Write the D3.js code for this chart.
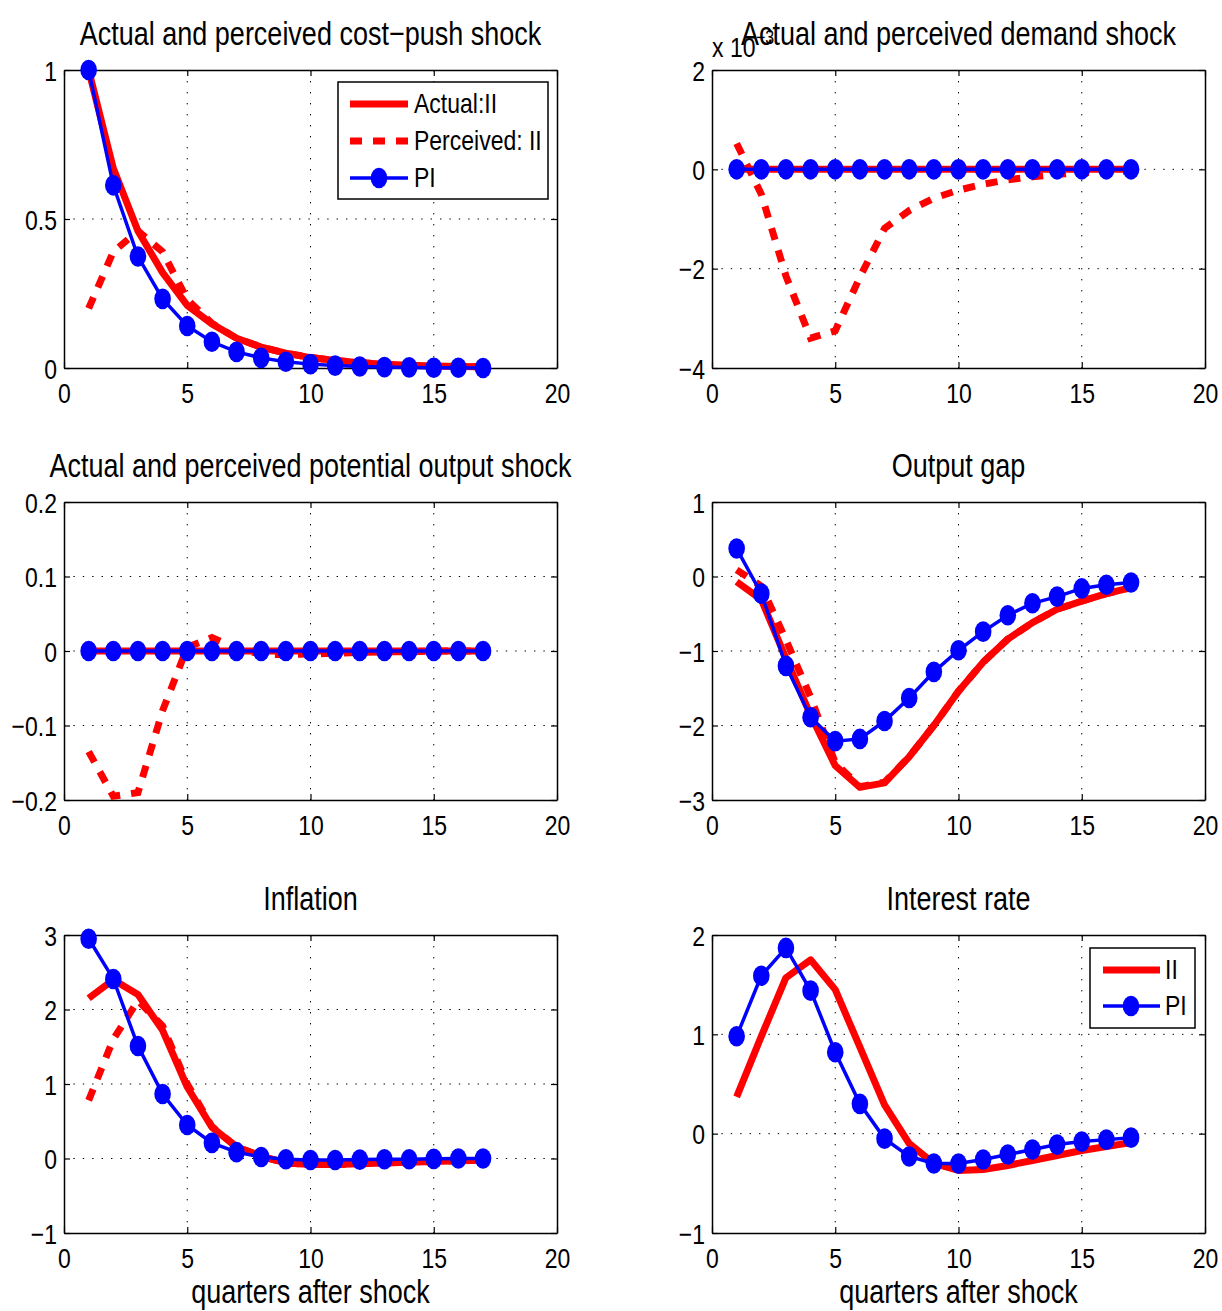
<!DOCTYPE html>
<html>
<head>
<meta charset="utf-8">
<script src="https://cdn.jsdelivr.net/npm/d3@7"></script>
<style>
  body { margin: 0; background: #fff; }
  text { font-family: "Liberation Sans", Arial, sans-serif; fill: #000; }
</style>
</head>
<body>
<div class="chart"></div>
<script>
// quarters after the shock (x values of every series)
var quarters = [1, 2, 3, 4, 5, 6, 7, 8, 9, 10, 11, 12, 13, 14, 15, 16, 17];
var xTicks = [0, 5, 10, 15, 20];

// cost-push shock
var costActual    = [1.00, 0.67, 0.46, 0.32, 0.21, 0.148, 0.10, 0.07, 0.05, 0.035, 0.025, 0.018, 0.013, 0.009, 0.007, 0.005, 0.004];
var costPerceived = [0.20, 0.39, 0.46, 0.39, 0.23, 0.15, 0.10, 0.07, 0.05, 0.035, 0.025, 0.018, 0.013, 0.009, 0.007, 0.005, 0.004];
var costPI        = [1.00, 0.613, 0.374, 0.232, 0.141, 0.088, 0.054, 0.034, 0.021, 0.013, 0.008, 0.005, 0.003, 0.002, 0.001, 0.001, 0.000];

// demand shock (units of 10^-3)
var demandActual    = [0, 0, 0, 0, 0, 0, 0, 0, 0, 0, 0, 0, 0, 0, 0, 0, 0];
var demandPerceived = [0.52, -0.50, -2.15, -3.40, -3.25, -2.17, -1.19, -0.83, -0.58, -0.42, -0.30, -0.21, -0.15, -0.10, -0.07, -0.05, -0.03];
var demandPI        = [0, 0, 0, 0, 0, 0, 0, 0, 0, 0, 0, 0, 0, 0, 0, 0, 0];

// potential output shock
var potActual    = [0, 0, 0, 0, 0, 0, 0, 0, 0, 0, 0, 0, 0, 0, 0, 0, 0];
var potPerceived = [-0.135, -0.195, -0.19, -0.08, 0.005, 0.018, 0.003, -0.004, -0.005, -0.004, -0.003, -0.002, -0.001, -0.001, 0, 0, 0];
var potPI        = [0, 0, 0, 0, 0, 0, 0, 0, 0, 0, 0, 0, 0, 0, 0, 0, 0];

// output gap
var gapActual    = [-0.07, -0.31, -1.10, -1.86, -2.54, -2.83, -2.77, -2.42, -2.00, -1.54, -1.15, -0.84, -0.62, -0.44, -0.33, -0.23, -0.15];
var gapPerceived = [0.09, -0.13, -0.85, -1.62, -2.50, -2.82, -2.76, -2.42, -2.00, -1.54, -1.15, -0.84, -0.62, -0.44, -0.33, -0.23, -0.15];
var gapPI        = [0.375, -0.23, -1.20, -1.89, -2.21, -2.18, -1.94, -1.63, -1.28, -0.99, -0.74, -0.52, -0.36, -0.27, -0.16, -0.11, -0.08];

// inflation
var inflActual    = [2.15, 2.40, 2.20, 1.72, 0.96, 0.42, 0.155, 0.03, -0.06, -0.08, -0.08, -0.07, -0.06, -0.05, -0.04, -0.03, -0.025];
var inflPerceived = [0.78, 1.60, 2.12, 1.78, 1.00, 0.43, 0.155, 0.03, -0.06, -0.08, -0.08, -0.07, -0.06, -0.05, -0.04, -0.03, -0.025];
var inflPI        = [2.95, 2.41, 1.51, 0.865, 0.45, 0.21, 0.085, 0.02, -0.01, -0.02, -0.02, -0.015, -0.01, -0.01, -0.005, 0, 0];

// interest rate
var rateActual = [0.37, 0.98, 1.57, 1.75, 1.45, 0.87, 0.29, -0.10, -0.30, -0.37, -0.36, -0.32, -0.27, -0.22, -0.17, -0.13, -0.09];
var ratePI     = [0.98, 1.59, 1.87, 1.44, 0.82, 0.30, -0.05, -0.23, -0.30, -0.30, -0.26, -0.21, -0.16, -0.11, -0.08, -0.06, -0.04];

var panels = [
  { col: 0, row: 0, title: "Actual and perceived cost\u2212push shock", domain: [0, 1], ticks: [0, 0.5, 1],
    actual: costActual, perceived: costPerceived, pi: costPI, legend: "full" },
  { col: 1, row: 0, title: "Actual and perceived demand shock", domain: [-4, 2], ticks: [-4, -2, 0, 2],
    actual: demandActual, perceived: demandPerceived, pi: demandPI, exponent: true },
  { col: 0, row: 1, title: "Actual and perceived potential output shock", domain: [-0.2, 0.2], ticks: [-0.2, -0.1, 0, 0.1, 0.2],
    actual: potActual, perceived: potPerceived, pi: potPI },
  { col: 1, row: 1, title: "Output gap", domain: [-3, 1], ticks: [-3, -2, -1, 0, 1],
    actual: gapActual, perceived: gapPerceived, pi: gapPI },
  { col: 0, row: 2, title: "Inflation", domain: [-1, 3], ticks: [-1, 0, 1, 2, 3],
    actual: inflActual, perceived: inflPerceived, pi: inflPI, xlabel: true },
  { col: 1, row: 2, title: "Interest rate", domain: [-1, 2], ticks: [-1, 0, 1, 2],
    actual: rateActual, pi: ratePI, xlabel: true, legend: "short" }
];

var svgWidth = 1222, svgHeight = 1311;
var colX = [64, 712];
var rowY = [70, 502, 935];
var plotW = 493, plotH = 298;
var stretch = 1.24;   // the figure is taller than it is wide, text included

var red = "#ff0000", blue = "#0000ff";

var svg = d3.select(".chart").append("svg")
  .attr("width", svgWidth)
  .attr("height", svgHeight);

var fmt = d3.format("~g");

function stretchedText(g, x, y, str, size, anchor) {
  return g.append("text")
    .attr("transform", `translate(${x},${y}) scale(1,${stretch})`)
    .attr("text-anchor", anchor || "middle")
    .style("font-size", size + "px")
    .text(str);
}

panels.forEach(function(p) {
  var g = svg.append("g")
    .attr("transform", `translate(${colX[p.col]}, ${rowY[p.row]})`);

  var x = d3.scaleLinear().domain([0, 20]).range([0, plotW]);
  var y = d3.scaleLinear().domain(p.domain).range([plotH, 0]);

  // dotted grid
  g.append("g").selectAll("line")
    .data(xTicks.slice(1, -1))
    .enter().append("line")
    .attr("x1", d => x(d)).attr("x2", d => x(d))
    .attr("y1", 0).attr("y2", plotH)
    .attr("stroke", "#000").attr("stroke-width", 1)
    .attr("stroke-dasharray", "1.4,9.6");
  g.append("g").selectAll("line")
    .data(p.ticks.slice(1, -1))
    .enter().append("line")
    .attr("x1", 0).attr("x2", plotW)
    .attr("y1", d => y(d)).attr("y2", d => y(d))
    .attr("stroke", "#000").attr("stroke-width", 1)
    .attr("stroke-dasharray", "1.4,8");

  // axes, ticks pointing inwards on all four sides
  var bottom = g.append("g").attr("transform", `translate(0,${plotH})`)
    .call(d3.axisBottom(x).tickValues(xTicks).tickSize(-6).tickSizeOuter(0).tickFormat(fmt));
  bottom.selectAll("text")
    .attr("y", 0).attr("dy", null)
    .attr("transform", `translate(0,35) scale(1,${stretch})`)
    .style("font-size", "23px");

  var left = g.append("g")
    .call(d3.axisLeft(y).tickValues(p.ticks).tickSize(-6).tickSizeOuter(0).tickFormat(fmt));
  left.selectAll("text")
    .attr("x", 0).attr("dy", null)
    .attr("transform", `translate(-7,10) scale(1,${stretch})`)
    .style("font-size", "23px");

  g.append("g")
    .call(d3.axisTop(x).tickValues(xTicks).tickSize(-6).tickSizeOuter(0).tickFormat(""));
  g.append("g").attr("transform", `translate(${plotW},0)`)
    .call(d3.axisRight(y).tickValues(p.ticks).tickSize(-6).tickSizeOuter(0).tickFormat(""));

  g.selectAll(".domain").attr("stroke", "#000").attr("stroke-width", 1.5);
  g.selectAll(".tick line").attr("stroke", "#000").attr("stroke-width", 1.2);
  g.selectAll(".tick text").attr("font-family", null).attr("fill", "#000");

  if (p.exponent) {
    stretchedText(g, 0, -13, "x 10", 23, "start");
    stretchedText(g, 44, -26, "\u22123", 16, "start");
  }

  // title and x label
  stretchedText(g, plotW / 2, -25, p.title, 27);
  if (p.xlabel) stretchedText(g, plotW / 2, plotH + 70, "quarters after shock", 27);

  var line = d3.line()
    .x((d, i) => x(quarters[i]))
    .y(d => y(d));

  g.append("path")
    .datum(p.actual)
    .attr("d", line)
    .attr("fill", "none")
    .attr("stroke", red)
    .attr("stroke-width", 7)
    .attr("stroke-linejoin", "round");

  if (p.perceived) {
    g.append("path")
      .datum(p.perceived)
      .attr("d", line)
      .attr("fill", "none")
      .attr("stroke", red)
      .attr("stroke-width", 7)
      .attr("stroke-dasharray", "12,11");
  }

  g.append("path")
    .datum(p.pi)
    .attr("d", line)
    .attr("fill", "none")
    .attr("stroke", blue)
    .attr("stroke-width", 3.5);

  g.append("g").selectAll("ellipse")
    .data(p.pi)
    .enter().append("ellipse")
    .attr("cx", (d, i) => x(quarters[i]))
    .attr("cy", d => y(d))
    .attr("rx", 8.3)
    .attr("ry", 10.3)
    .attr("fill", blue);

  // legends
  if (p.legend === "full") {
    var lg = g.append("g").attr("transform", "translate(274,12)");
    lg.append("rect").attr("width", 210).attr("height", 117)
      .attr("fill", "#fff").attr("stroke", "#000").attr("stroke-width", 1.5);
    var rows = [
      { label: "Actual:II", dash: null, c: red, w: 7 },
      { label: "Perceived: II", dash: "12,11", c: red, w: 7 },
      { label: "PI", dash: null, c: blue, w: 3.5, marker: true }
    ];
    rows.forEach(function(r, i) {
      var yy = 22 + i * 37;
      lg.append("line").attr("x1", 12).attr("x2", 70).attr("y1", yy).attr("y2", yy)
        .attr("stroke", r.c).attr("stroke-width", r.w)
        .attr("stroke-dasharray", r.dash);
      if (r.marker) lg.append("ellipse").attr("cx", 41).attr("cy", yy).attr("rx", 8.3).attr("ry", 10.3).attr("fill", blue);
      stretchedText(lg, 76, yy + 9, r.label, 23, "start");
    });
  }
  if (p.legend === "short") {
    var ls = g.append("g").attr("transform", "translate(378,13)");
    ls.append("rect").attr("width", 105).attr("height", 80)
      .attr("fill", "#fff").attr("stroke", "#000").attr("stroke-width", 1.5);
    ls.append("line").attr("x1", 13).attr("x2", 70).attr("y1", 22).attr("y2", 22)
      .attr("stroke", red).attr("stroke-width", 7);
    stretchedText(ls, 75, 31, "II", 23, "start");
    ls.append("line").attr("x1", 13).attr("x2", 70).attr("y1", 58).attr("y2", 58)
      .attr("stroke", blue).attr("stroke-width", 3.5);
    ls.append("ellipse").attr("cx", 41).attr("cy", 58).attr("rx", 8.3).attr("ry", 10.3).attr("fill", blue);
    stretchedText(ls, 75, 67, "PI", 23, "start");
  }
});
</script>
</body>
</html>
